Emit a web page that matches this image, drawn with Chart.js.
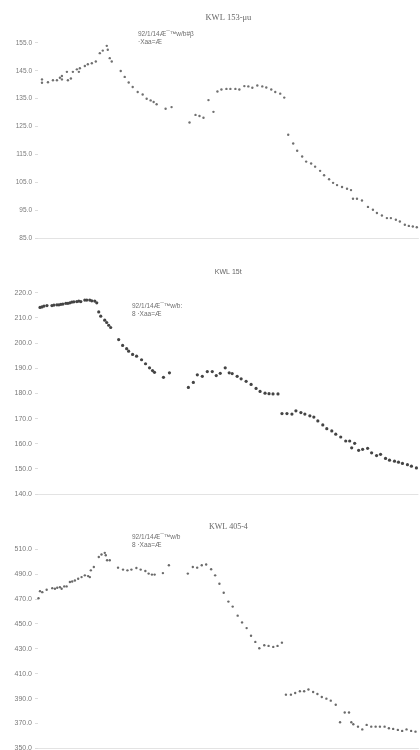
<!DOCTYPE html>
<html><head><meta charset="utf-8">
<script src="https://cdn.jsdelivr.net/npm/chart.js@4/dist/chart.umd.min.js"></script>
<style>
html,body{margin:0;padding:0;background:#fff}
body{width:420px;height:750px;overflow:hidden;position:relative;font-family:"Liberation Sans",Arial,sans-serif}
.box{position:absolute;left:0;width:420px}
.note{position:absolute;font-size:6.5px;color:#6f6f6f;line-height:8.4px;white-space:nowrap}
</style></head><body>
<div class="box" style="top:0;height:245px"><canvas id="c1" width="420" height="245"></canvas></div>
<div class="box" style="top:245px;height:255px"><canvas id="c2" width="420" height="255"></canvas></div>
<div class="box" style="top:500px;height:250px"><canvas id="c3" width="420" height="250"></canvas></div>
<div class="note" style="left:138px;top:30px">92/1/14Æ¯™w/b#β<br>·Xaa=Æ</div>
<div class="note" style="left:132px;top:302px">92/1/14Æ¯™w/b:<br>8 ·Xaa=Æ</div>
<div class="note" style="left:132px;top:533px">92/1/14Æ¯™w/b<br>8 ·Xaa=Æ</div>
<script>
// ---- Chart 1: KWL 153-μu ----
const title1 = "KWL 153-μu";
const ticks1 = [85, 95, 105, 115, 125, 135, 145, 155];
const time1 = [42,42,48,53,57,60,62,62,67,68,71,73,77,79,80,85,88,92,96,100,103,107,108,110,112,121,125,129,133,138,143,147,151,154,157,166,172,190,196,200,204,209,214,218,222,227,231,236,240,245,249,253,258,263,267,272,276,281,285,289,294,298,303,307,312,316,321,325,330,334,338,343,348,352,354,358,363,369,374,378,383,388,392,397,401,406,410,414,418];
const level1 = [141.9,140.7,140.9,141.6,141.6,142.5,143.1,141.9,144.6,141.6,142.2,144.6,145.5,144.6,145.9,146.7,147.3,147.7,148.3,151.3,152.2,153.9,152.5,149.5,148.3,144.9,142.8,140.8,139.2,137.4,136.5,135.0,134.4,133.8,133.0,131.4,132.0,126.5,129.2,128.8,128.2,134.5,130.3,137.6,138.3,138.5,138.5,138.5,138.3,139.5,139.4,138.9,139.7,139.4,139.0,138.3,137.4,136.8,135.4,122.1,119.0,116.4,114.3,112.5,111.8,110.7,109.2,107.6,106.2,104.9,104.1,103.4,102.8,102.3,99.2,99.2,98.6,96.3,95.3,94.1,93.2,92.3,92.3,91.7,91.1,89.9,89.5,89.3,89.0];

// ---- Chart 2: KWL 15t ----
const title2 = "KWL 15t";
const ticks2 = [140, 150, 160, 170, 180, 190, 200, 210, 220];
const time2 = [40,42,44,47,52,54,57,59,61,63,66,68,70,72,74,77,79,81,85,87,90,92,95,97,99,101,105,107,109,111,119,123,127,129,133,137,142,146,150,153,155,164,170,189,194,198,203,208,213,217,221,226,230,233,238,242,247,252,257,261,266,270,274,279,283,288,293,297,302,306,311,315,319,324,328,333,337,342,347,351,353,356,360,364,369,373,378,382,387,391,396,400,404,409,413,418];
const level2 = [214.2,214.4,214.7,214.9,214.9,215.1,215.2,215.2,215.4,215.5,215.8,215.8,216.0,216.3,216.4,216.5,216.7,216.5,217.1,217.1,217.1,216.8,216.7,216.0,212.4,210.7,209.1,208.2,207.1,206.2,201.4,199.1,197.8,196.8,195.5,194.8,193.4,191.8,190.2,189.1,188.4,186.4,188.2,182.4,184.4,187.4,186.8,188.7,188.7,187.1,188.0,190.2,188.2,187.9,186.8,185.8,184.8,183.6,182.0,180.8,180.1,179.9,179.8,179.8,172.0,172.0,171.8,173.1,172.4,171.8,171.1,170.6,169.1,167.5,166.0,165.1,163.8,162.7,161.1,161.1,158.4,160.2,157.4,157.8,158.2,156.4,155.3,155.8,154.2,153.5,153.1,152.7,152.2,151.7,151.1,150.4];

// ---- Chart 3: KWL 405-4 ----
const title3 = "KWL 405-4";
const ticks3 = [350, 370, 390, 410, 430, 450, 470, 490, 510];
const time3 = [38.5,40,42.3,46.7,52.3,55,57.3,60,61.7,64.3,66.7,70,72.3,75,78.3,81.7,85,88.3,90,91,94,99,101.7,105,106,107.3,110,118.3,123.3,127.7,131.7,136.7,141,145.7,149,152.3,155,163.3,169.3,188.3,193.3,197.7,202.3,206.7,211.7,215.7,220,224.3,229,233.3,238.3,242.7,247.3,251.7,256,260,265,269.3,274,278.3,282.7,286.7,291.7,296,300.7,305,309.3,314,318.3,322.7,327.3,331.7,336.7,341,345.7,350,352.3,354.3,359,363.3,367.7,372.3,376.7,381,385.7,390,394.3,399,403.3,407.7,412.3,416.7];
const level3 = [470.7,476.4,475.6,477.5,478.8,478.3,479.1,479.6,478.3,480.2,480.2,483.7,484.2,485.0,486.4,487.7,489.1,488.5,487.7,493.1,495.8,503.9,505.9,507.2,505.3,501.2,501.2,495.3,493.7,493.1,493.7,495.0,493.7,492.6,490.5,489.7,489.7,490.9,497.2,490.5,495.8,495.3,497.2,497.8,494.0,489.1,482.4,475.1,468.0,464.0,456.7,451.3,446.7,440.5,435.6,430.5,432.9,432.4,431.6,432.4,435.0,393.2,393.2,394.5,395.9,395.9,397.3,395.3,393.7,391.3,390.0,388.4,385.1,371.0,378.9,378.9,371.0,369.4,367.5,365.3,368.9,367.5,367.5,367.5,367.5,366.2,365.7,364.9,364.1,365.3,364.1,363.5];

function makeChart(id, title, titleFont, titlePad, xs, ys, tickVals, yMin, yMax, pointColor, pointRadius, labelSize) {
  const pts = xs.map((x, i) => ({x: x, y: ys[i]}));
  const bottomTick = tickVals[0];
  return new Chart(document.getElementById(id), {
    type: 'scatter',
    data: {datasets: [{data: pts, backgroundColor: pointColor, borderColor: pointColor,
      pointRadius: pointRadius, pointBorderWidth: 0, pointHoverRadius: pointRadius}]},
    options: {
      responsive: false, animation: false, events: [],
      layout: {padding: 0},
      clip: false,
      plugins: {
        legend: {display: false}, tooltip: {enabled: false},
        title: {display: true, text: title, fullSize: false, color: '#666',
          font: titleFont, padding: titlePad}
      },
      scales: {
        x: {type: 'linear', display: false, min: 38, max: 420},
        y: {
          min: yMin, max: yMax,
          afterFit: s => { s.width = 38; s.paddingTop = 0; s.paddingBottom = 0; },
          afterBuildTicks: s => { s.ticks = tickVals.map(v => ({value: v})); },
          border: {display: false},
          grid: {
            drawTicks: true, tickLength: 3, tickColor: '#dcdcdc',
            color: c => (c.tick && c.tick.value === bottomTick) ? '#e3e3e3' : 'rgba(0,0,0,0)',
            lineWidth: 1
          },
          ticks: {color: '#7a7a7a', padding: 3, font: {size: labelSize, family: '"Liberation Sans", Arial, sans-serif'},
            callback: v => Number(v).toFixed(1)}
        }
      }
    }
  });
}

makeChart('c1', title1, {family: '"Liberation Serif", "Times New Roman", serif', size: 8.5, weight: 'normal', lineHeight: 1.2},
  {top: 13, bottom: 11.2}, time1, level1, ticks1, 83.1, 158, '#707070', 1.2, 6.5);
makeChart('c2', title2, {family: '"Liberation Sans", Arial, sans-serif', size: 7, weight: 'normal', lineHeight: 1.2},
  {top: 22.5, bottom: 4.3}, time2, level2, ticks2, 138.3, 225, '#444', 1.6, 7);
makeChart('c3', title3, {family: '"Liberation Serif", "Times New Roman", serif', size: 8, weight: 'normal', lineHeight: 1.2},
  {top: 21.9, bottom: 5.4}, time3, level3, ticks3, 349.7, 520, '#6a6a6a', 1.2, 7);
</script>
</body></html>
